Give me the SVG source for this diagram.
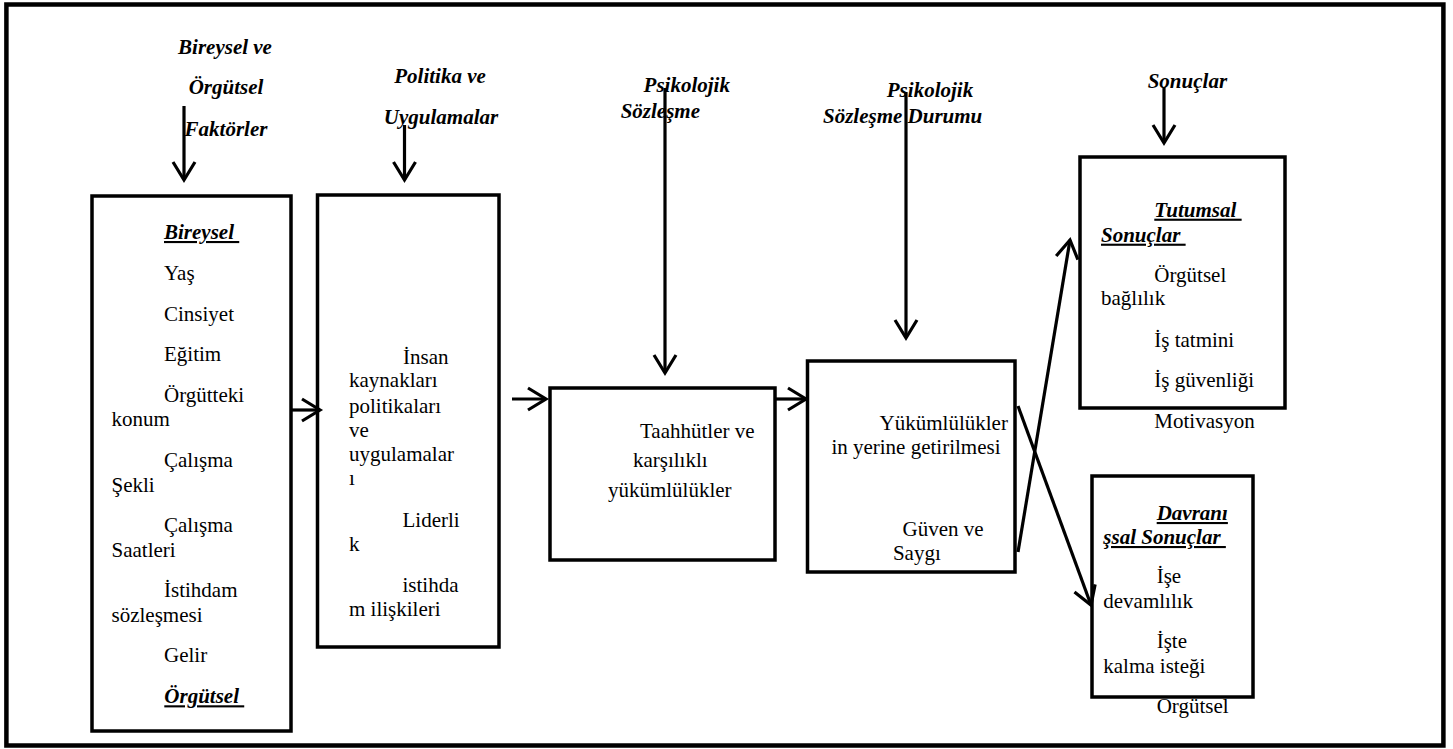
<svg xmlns="http://www.w3.org/2000/svg" width="1453" height="749" viewBox="0 0 1453 749">
<style>
.frame{fill:#fff;stroke:#000;stroke-width:4.5}
.box{fill:#fff;stroke:#000;stroke-width:3.5}
.t{font-family:'Liberation Serif','Times New Roman',Tinos,'DejaVu Serif',serif;font-size:21px;fill:#000}
.h{font-weight:bold;font-style:italic}
.u{text-decoration:underline;white-space:pre}
.m{text-anchor:middle}
.c{fill:none;stroke:#000;stroke-width:3.2;marker-end:url(#ah)}
</style>
<defs>
<marker id="ah" markerUnits="userSpaceOnUse" orient="auto" refX="0" refY="0" markerWidth="30" markerHeight="30" viewBox="-22 -15 30 30" overflow="visible">
<path d="M-18,-11 L0,0 L-18,11" fill="none" stroke="#000" stroke-width="3.2"/>
</marker>
</defs>
<rect x="0" y="0" width="1453" height="749" fill="#fff"/>
<rect class="frame" x="6.4" y="4.5" width="1437" height="741"/>

<g id="title-factors" class="t h m" font-family="Liberation Serif, serif">
<text x="225" y="54">Bireysel ve</text>
<text x="226" y="94">Örgütsel</text>
<text x="226" y="136">Faktörler</text>
</g>
<g id="title-policies" class="t h m">
<text x="440" y="83">Politika ve</text>
<text x="441" y="124">Uygulamalar</text>
</g>
<g id="title-contract" class="t h">
<text x="643.6" y="92">Psikolojik</text>
<text x="620.7" y="118">Sözleşme</text>
</g>
<g id="title-state" class="t h">
<text x="886.8" y="97">Psikolojik</text>
<text x="823" y="123">Sözleşme Durumu</text>
</g>
<g id="title-outcomes" class="t h">
<text x="1147.7" y="88">Sonuçlar</text>
</g>

<g id="n-factors">
<rect class="box" x="92" y="196" width="199" height="535"/>
<g class="t">
<text class="h u" x="164" y="239">Bireysel </text>
<text x="164" y="280">Yaş</text>
<text x="164" y="320.7">Cinsiyet</text>
<text x="164" y="361">Eğitim</text>
<text x="164" y="401.7">Örgütteki</text>
<text x="111.5" y="426">konum</text>
<text x="164" y="466.7">Çalışma</text>
<text x="111.5" y="491.7">Şekli</text>
<text x="164" y="531.7">Çalışma</text>
<text x="111.5" y="556.7">Saatleri</text>
<text x="164" y="596.7">İstihdam</text>
<text x="111.5" y="621.7">sözleşmesi</text>
<text x="164" y="661.7">Gelir</text>
<text class="h u" x="164.3" y="703.3">Örgütsel </text>
</g>
</g>

<g id="n-policies">
<rect class="box" x="317.5" y="195" width="181.5" height="452"/>
<g class="t">
<text x="403" y="364">İnsan</text>
<text x="349" y="387.3">kaynakları</text>
<text x="349" y="413">politikaları</text>
<text x="349" y="436.7">ve</text>
<text x="349" y="460.7">uygulamalar</text>
<text x="349" y="485">ı</text>
<text x="402.5" y="526.7">Liderli</text>
<text x="349" y="550.7">k</text>
<text x="402.5" y="591.7">istihda</text>
<text x="349" y="616">m ilişkileri</text>
</g>
</g>

<g id="n-contract">
<rect class="box" x="550" y="388" width="225" height="172"/>
<g class="t">
<text x="640" y="437.6">Taahhütler ve</text>
<text x="632.9" y="467.2">karşılıklı</text>
<text x="607.9" y="496.8">yükümlülükler</text>
</g>
</g>

<g id="n-state">
<rect class="box" x="807.5" y="361" width="207.5" height="211"/>
<g class="t">
<text x="879.6" y="430.2">Yükümlülükler</text>
<text x="831.4" y="454.3">in yerine getirilmesi</text>
<text x="902.5" y="535.7">Güven ve</text>
<text x="892.9" y="559.7">Saygı</text>
</g>
</g>

<g id="n-attitudinal">
<rect class="box" x="1080" y="157" width="205" height="251"/>
<g class="t">
<text class="h u" x="1154.3" y="216.7">Tutumsal </text>
<text class="h u" x="1101" y="241.7">Sonuçlar </text>
<text x="1154.3" y="281.7">Örgütsel</text>
<text x="1101" y="305">bağlılık</text>
<text x="1154.3" y="346.7">İş tatmini</text>
<text x="1154.3" y="386.7">İş güvenliği</text>
<text x="1154.3" y="428.3">Motivasyon</text>
</g>
</g>

<g id="n-behavioral">
<g class="t">
<text x="1156.7" y="713.3">Örgütsel</text>
</g>
<rect class="box" x="1092" y="476" width="161" height="221"/>
<g class="t">
<text class="h u" x="1156.7" y="520">Davranı</text>
<text class="h u" x="1103.3" y="544">şsal Sonuçlar </text>
<text x="1156.7" y="583.3">İşe</text>
<text x="1103.3" y="608.3">devamlılık</text>
<text x="1156.7" y="648.3">İşte</text>
<text x="1103.3" y="673.3">kalma isteği</text>
</g>
</g>

<g id="connectors">
<path class="c" d="M184,106 V180"/>
<path class="c" d="M404.5,125 V180"/>
<path class="c" d="M665,88 V373"/>
<path class="c" d="M906,92 V338"/>
<path class="c" d="M1164,87 V143"/>
<path class="c" d="M291,410 H320"/>
<path class="c" d="M512,399 H546"/>
<path class="c" d="M775,399 H806"/>
<path class="c" d="M1018,552 L1070,240"/>
<path class="c" d="M1018,406 L1091,605"/>
</g>
</svg>
